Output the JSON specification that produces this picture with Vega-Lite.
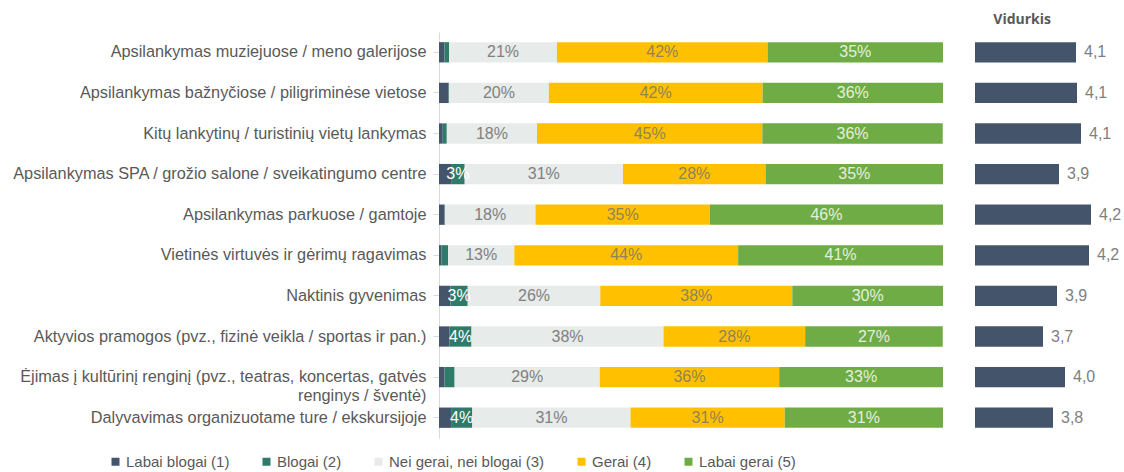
{
  "$schema": "https://vega.github.io/schema/vega-lite/v6.json",
  "padding": {"left": 11, "top": 13, "right": 0, "bottom": 2},
  "spacing": 32,
  "title": {"text": "Vidurkis", "anchor": "end", "dx": -73, "fontSize": 14, "fontWeight": "bold", "color": "#595959", "font": "Open Sans", "offset": 5},
  "config": {
    "view": {"stroke": null},
    "font": "Liberation Sans"
  },
  "datasets": {
    "dist": [
      {"item": "Apsilankymas muziejuose / meno galerijose", "cat": "Labai blogai (1)", "k": 1, "pct": 0.011},
      {"item": "Apsilankymas muziejuose / meno galerijose", "cat": "Blogai (2)", "k": 2, "pct": 0.009},
      {"item": "Apsilankymas muziejuose / meno galerijose", "cat": "Nei gerai, nei blogai (3)", "k": 3, "pct": 0.214},
      {"item": "Apsilankymas muziejuose / meno galerijose", "cat": "Gerai (4)", "k": 4, "pct": 0.418},
      {"item": "Apsilankymas muziejuose / meno galerijose", "cat": "Labai gerai (5)", "k": 5, "pct": 0.348},
      {"item": "Apsilankymas bažnyčiose / piligriminėse vietose", "cat": "Labai blogai (1)", "k": 1, "pct": 0.019},
      {"item": "Apsilankymas bažnyčiose / piligriminėse vietose", "cat": "Blogai (2)", "k": 2, "pct": 0.001},
      {"item": "Apsilankymas bažnyčiose / piligriminėse vietose", "cat": "Nei gerai, nei blogai (3)", "k": 3, "pct": 0.198},
      {"item": "Apsilankymas bažnyčiose / piligriminėse vietose", "cat": "Gerai (4)", "k": 4, "pct": 0.424},
      {"item": "Apsilankymas bažnyčiose / piligriminėse vietose", "cat": "Labai gerai (5)", "k": 5, "pct": 0.358},
      {"item": "Kitų lankytinų / turistinių vietų lankymas", "cat": "Labai blogai (1)", "k": 1, "pct": 0.0075},
      {"item": "Kitų lankytinų / turistinių vietų lankymas", "cat": "Blogai (2)", "k": 2, "pct": 0.008},
      {"item": "Kitų lankytinų / turistinių vietų lankymas", "cat": "Nei gerai, nei blogai (3)", "k": 3, "pct": 0.179},
      {"item": "Kitų lankytinų / turistinių vietų lankymas", "cat": "Gerai (4)", "k": 4, "pct": 0.447},
      {"item": "Kitų lankytinų / turistinių vietų lankymas", "cat": "Labai gerai (5)", "k": 5, "pct": 0.358},
      {"item": "Apsilankymas SPA / grožio salone / sveikatingumo centre", "cat": "Labai blogai (1)", "k": 1, "pct": 0.024},
      {"item": "Apsilankymas SPA / grožio salone / sveikatingumo centre", "cat": "Blogai (2)", "k": 2, "pct": 0.027},
      {"item": "Apsilankymas SPA / grožio salone / sveikatingumo centre", "cat": "Nei gerai, nei blogai (3)", "k": 3, "pct": 0.314},
      {"item": "Apsilankymas SPA / grožio salone / sveikatingumo centre", "cat": "Gerai (4)", "k": 4, "pct": 0.283},
      {"item": "Apsilankymas SPA / grožio salone / sveikatingumo centre", "cat": "Labai gerai (5)", "k": 5, "pct": 0.352},
      {"item": "Apsilankymas parkuose / gamtoje", "cat": "Labai blogai (1)", "k": 1, "pct": 0.0115},
      {"item": "Apsilankymas parkuose / gamtoje", "cat": "Blogai (2)", "k": 2, "pct": 0},
      {"item": "Apsilankymas parkuose / gamtoje", "cat": "Nei gerai, nei blogai (3)", "k": 3, "pct": 0.18},
      {"item": "Apsilankymas parkuose / gamtoje", "cat": "Gerai (4)", "k": 4, "pct": 0.346},
      {"item": "Apsilankymas parkuose / gamtoje", "cat": "Labai gerai (5)", "k": 5, "pct": 0.4625},
      {"item": "Vietinės virtuvės ir gėrimų ragavimas", "cat": "Labai blogai (1)", "k": 1, "pct": 0.005},
      {"item": "Vietinės virtuvės ir gėrimų ragavimas", "cat": "Blogai (2)", "k": 2, "pct": 0.013},
      {"item": "Vietinės virtuvės ir gėrimų ragavimas", "cat": "Nei gerai, nei blogai (3)", "k": 3, "pct": 0.1315},
      {"item": "Vietinės virtuvės ir gėrimų ragavimas", "cat": "Gerai (4)", "k": 4, "pct": 0.444},
      {"item": "Vietinės virtuvės ir gėrimų ragavimas", "cat": "Labai gerai (5)", "k": 5, "pct": 0.4065},
      {"item": "Naktinis gyvenimas", "cat": "Labai blogai (1)", "k": 1, "pct": 0.023},
      {"item": "Naktinis gyvenimas", "cat": "Blogai (2)", "k": 2, "pct": 0.034},
      {"item": "Naktinis gyvenimas", "cat": "Nei gerai, nei blogai (3)", "k": 3, "pct": 0.263},
      {"item": "Naktinis gyvenimas", "cat": "Gerai (4)", "k": 4, "pct": 0.381},
      {"item": "Naktinis gyvenimas", "cat": "Labai gerai (5)", "k": 5, "pct": 0.299},
      {"item": "Aktyvios pramogos (pvz., fizinė veikla / sportas ir pan.)", "cat": "Labai blogai (1)", "k": 1, "pct": 0.021},
      {"item": "Aktyvios pramogos (pvz., fizinė veikla / sportas ir pan.)", "cat": "Blogai (2)", "k": 2, "pct": 0.0435},
      {"item": "Aktyvios pramogos (pvz., fizinė veikla / sportas ir pan.)", "cat": "Nei gerai, nei blogai (3)", "k": 3, "pct": 0.381},
      {"item": "Aktyvios pramogos (pvz., fizinė veikla / sportas ir pan.)", "cat": "Gerai (4)", "k": 4, "pct": 0.281},
      {"item": "Aktyvios pramogos (pvz., fizinė veikla / sportas ir pan.)", "cat": "Labai gerai (5)", "k": 5, "pct": 0.273},
      {"item": "Ėjimas į kultūrinį renginį (pvz., teatras, koncertas, gatvės renginys / šventė)", "cat": "Labai blogai (1)", "k": 1, "pct": 0.011},
      {"item": "Ėjimas į kultūrinį renginį (pvz., teatras, koncertas, gatvės renginys / šventė)", "cat": "Blogai (2)", "k": 2, "pct": 0.02},
      {"item": "Ėjimas į kultūrinį renginį (pvz., teatras, koncertas, gatvės renginys / šventė)", "cat": "Nei gerai, nei blogai (3)", "k": 3, "pct": 0.288},
      {"item": "Ėjimas į kultūrinį renginį (pvz., teatras, koncertas, gatvės renginys / šventė)", "cat": "Gerai (4)", "k": 4, "pct": 0.356},
      {"item": "Ėjimas į kultūrinį renginį (pvz., teatras, koncertas, gatvės renginys / šventė)", "cat": "Labai gerai (5)", "k": 5, "pct": 0.325},
      {"item": "Dalyvavimas organizuotame ture / ekskursijoje", "cat": "Labai blogai (1)", "k": 1, "pct": 0.024},
      {"item": "Dalyvavimas organizuotame ture / ekskursijoje", "cat": "Blogai (2)", "k": 2, "pct": 0.042},
      {"item": "Dalyvavimas organizuotame ture / ekskursijoje", "cat": "Nei gerai, nei blogai (3)", "k": 3, "pct": 0.314},
      {"item": "Dalyvavimas organizuotame ture / ekskursijoje", "cat": "Gerai (4)", "k": 4, "pct": 0.306},
      {"item": "Dalyvavimas organizuotame ture / ekskursijoje", "cat": "Labai gerai (5)", "k": 5, "pct": 0.314}
    ],
    "avg": [
      {"item": "Apsilankymas muziejuose / meno galerijose", "vid": 4.07},
      {"item": "Apsilankymas bažnyčiose / piligriminėse vietose", "vid": 4.08},
      {"item": "Kitų lankytinų / turistinių vietų lankymas", "vid": 4.12},
      {"item": "Apsilankymas SPA / grožio salone / sveikatingumo centre", "vid": 3.9},
      {"item": "Apsilankymas parkuose / gamtoje", "vid": 4.22},
      {"item": "Vietinės virtuvės ir gėrimų ragavimas", "vid": 4.2},
      {"item": "Naktinis gyvenimas", "vid": 3.88},
      {"item": "Aktyvios pramogos (pvz., fizinė veikla / sportas ir pan.)", "vid": 3.74},
      {"item": "Ėjimas į kultūrinį renginį (pvz., teatras, koncertas, gatvės renginys / šventė)", "vid": 3.96},
      {"item": "Dalyvavimas organizuotame ture / ekskursijoje", "vid": 3.84}
    ]
  },
  "resolve": {"scale": {"y": "independent", "x": "independent"}},
  "hconcat": [
    {
      "width": 504,
      "height": 406,
      "data": {"name": "dist"},
      "transform": [
        {"stack": "pct", "groupby": ["item"], "sort": [{"field": "k", "order": "ascending"}], "as": ["p0", "p1"]},
        {"calculate": "(datum.p0 + datum.p1) / 2", "as": "pm"}
      ],
      "encoding": {
        "y": {
          "field": "item", "type": "nominal",
          "sort": ["Apsilankymas muziejuose / meno galerijose", "Apsilankymas bažnyčiose / piligriminėse vietose", "Kitų lankytinų / turistinių vietų lankymas", "Apsilankymas SPA / grožio salone / sveikatingumo centre", "Apsilankymas parkuose / gamtoje", "Vietinės virtuvės ir gėrimų ragavimas", "Naktinis gyvenimas", "Aktyvios pramogos (pvz., fizinė veikla / sportas ir pan.)", "Ėjimas į kultūrinį renginį (pvz., teatras, koncertas, gatvės renginys / šventė)", "Dalyvavimas organizuotame ture / ekskursijoje"],
          "scale": {"paddingInner": 0.5, "paddingOuter": 0.25},
          "axis": {
            "title": null,
            "labelFontSize": 16.3,
            "labelFont": "Liberation Sans",
            "labelColor": "#595959",
            "labelLimit": 1000,
            "labelPadding": 7,
            "labelLineHeight": 19,
            "labelExpr": "indexof(datum.value, 'Ėjimas') == 0 ? ['Ėjimas į kultūrinį renginį (pvz., teatras, koncertas, gatvės', 'renginys / šventė)'] : datum.value",
            "tickSize": 6,
            "tickColor": "#d9d9d9",
            "domainColor": "#d9d9d9"
          }
        }
      },
      "layer": [
        {
          "mark": {"type": "bar"},
          "encoding": {
            "x": {"field": "p0", "type": "quantitative", "scale": {"domain": [0, 1], "nice": false}, "axis": null},
            "x2": {"field": "p1"},
            "color": {
              "field": "cat", "type": "nominal",
              "scale": {"domain": ["Labai blogai (1)", "Blogai (2)", "Nei gerai, nei blogai (3)", "Gerai (4)", "Labai gerai (5)"], "range": ["#44546A", "#2E7B6A", "#E7EBE9", "#FFC000", "#6FAC46"]},
              "legend": {
                "title": null,
                "orient": "none",
                "direction": "horizontal",
                "legendX": -331,
                "legendY": 422,
                "symbolType": "square",
                "symbolSize": 64,
                "symbolStrokeWidth": 0,
                "labelFontSize": 15,
                "labelFont": "Liberation Sans",
                "labelColor": "#595959",
                "labelOffset": 3,
                "columnPadding": 29
              }
            }
          }
        },
        {
          "transform": [{"filter": "datum.pct >= 0.025"}],
          "mark": {"type": "text", "fontSize": 16, "font": "Liberation Sans"},
          "encoding": {
            "x": {"field": "pm", "type": "quantitative"},
            "text": {"field": "pct", "type": "quantitative", "format": ".0%"},
            "color": {
              "field": "cat", "type": "nominal",
              "scale": {"domain": ["Labai blogai (1)", "Blogai (2)", "Nei gerai, nei blogai (3)", "Gerai (4)", "Labai gerai (5)"], "range": ["#ffffff", "#ffffff", "#808080", "#8f8458", "#e4efdc"]},
              "legend": null
            }
          }
        }
      ],
      "resolve": {"scale": {"color": "independent"}}
    },
    {
      "width": 149,
      "height": 406,
      "data": {"name": "avg"},
      "encoding": {
        "y": {
          "field": "item", "type": "nominal",
          "sort": ["Apsilankymas muziejuose / meno galerijose", "Apsilankymas bažnyčiose / piligriminėse vietose", "Kitų lankytinų / turistinių vietų lankymas", "Apsilankymas SPA / grožio salone / sveikatingumo centre", "Apsilankymas parkuose / gamtoje", "Vietinės virtuvės ir gėrimų ragavimas", "Naktinis gyvenimas", "Aktyvios pramogos (pvz., fizinė veikla / sportas ir pan.)", "Ėjimas į kultūrinį renginį (pvz., teatras, koncertas, gatvės renginys / šventė)", "Dalyvavimas organizuotame ture / ekskursijoje"],
          "scale": {"paddingInner": 0.5, "paddingOuter": 0.25},
          "axis": null
        },
        "x": {"field": "vid", "type": "quantitative", "scale": {"domain": [3.06, 4.55], "range": [0, 149], "zero": false, "nice": false}, "axis": null}
      },
      "layer": [
        {
          "mark": {"type": "bar", "color": "#44546A"},
          "encoding": {"x2": {"datum": 3.06}}
        },
        {
          "mark": {"type": "text", "align": "left", "dx": 8, "fontSize": 16, "font": "Liberation Sans", "color": "#7f7f7f", "text": {"expr": "replace(format(datum.vid, '.1f'), '.', ',')"}}
        }
      ]
    }
  ]
}
